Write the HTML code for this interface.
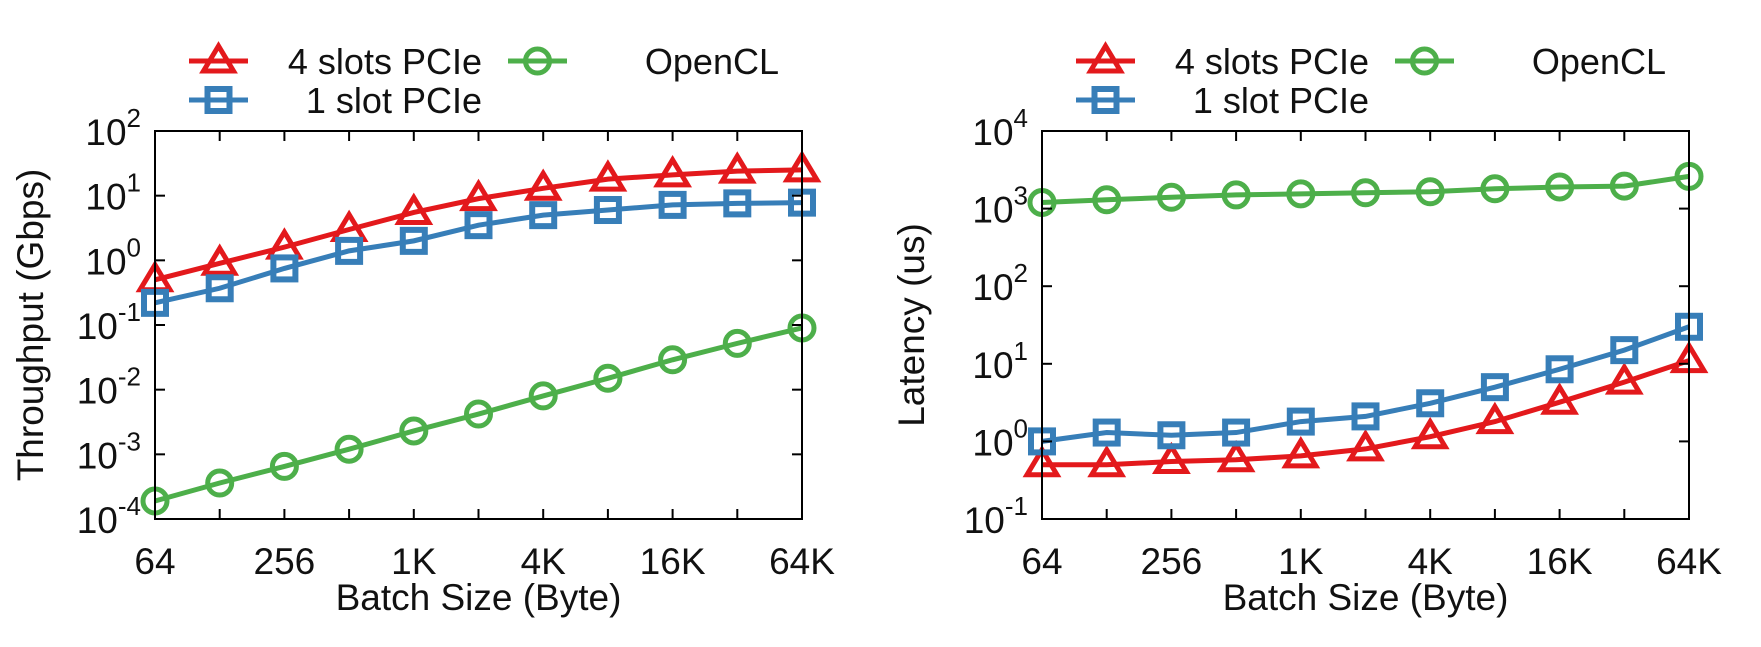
<!DOCTYPE html>
<html><head><meta charset="utf-8"><style>
html,body{margin:0;padding:0;background:#fff;}
svg{display:block;font-family:"Liberation Sans",sans-serif;}
</style></head><body>
<svg id="c" width="1761" height="647" viewBox="0 0 1761 647"></svg>
<script>
const categories=["64","128","256","512","1K","2K","4K","8K","16K","32K","64K"];
const tickLabels=["64","","256","","1K","","4K","","16K","","64K"];
const thrRed=[0.5,0.9,1.6,3.0,5.5,9,13,18,21,24,25];
const thrBlue=[0.22,0.37,0.75,1.4,2.0,3.5,5.0,6.0,7.2,7.6,7.8];
const thrGreen=[1.9e-4,3.6e-4,6.5e-4,1.2e-3,2.3e-3,4.2e-3,8e-3,1.5e-2,2.9e-2,5.2e-2,9.0e-2];
const latRed=[0.5,0.5,0.55,0.58,0.65,0.8,1.15,1.8,3.2,5.8,11];
const latBlue=[1.0,1.3,1.2,1.3,1.8,2.1,3.1,5,8.5,15,30];
const latGreen=[1200,1300,1400,1500,1550,1600,1650,1800,1900,1950,2600];
const thrExp=[-4,-3,-2,-1,0,1,2];
const latExp=[-1,0,1,2,3,4];
const seriesNames=["4 slots PCIe","1 slot PCIe","OpenCL"];
const RED="#e3191c",BLUE="#377eb8",GREEN="#4daf4a";
const NS="http://www.w3.org/2000/svg";
const svg=document.getElementById('c');
function mk(tag,attrs,parent){const e=document.createElementNS(NS,tag);for(const k in attrs)e.setAttribute(k,attrs[k]);(parent||svg).appendChild(e);return e;}
function marker(g,type,x,y,color){
  let m;
  if(type==='tri'){m=mk('polygon',{points:`${x},${y-15} ${x-15},${y+10} ${x+15},${y+10}`,fill:'none',stroke:color,'stroke-width':5},g);}
  else if(type==='sq'){m=mk('rect',{x:x-11,y:y-11,width:22,height:22,fill:'none',stroke:color,'stroke-width':6},g);}
  else {m=mk('circle',{cx:x,cy:y,r:12,fill:'none',stroke:color,'stroke-width':5},g);}
  return m;
}
function chart(name,L,T,W,H,expArr,series,ylabel,ylx){
  const g=mk('g',{});
  
  
  const lo=expArr[0],hi=expArr[expArr.length-1];
  const xs=i=>L+i*W/(categories.length-1);
  const ys=v=>T+H*(hi-Math.log10(v))/(hi-lo);
  series.forEach(s=>{
    const sg=mk('g',{},g);
    
    
    const pts=s.data.map((v,i)=>xs(i)+','+ys(v)).join(' ');
    const pl=mk('polyline',{points:pts,fill:'none',stroke:s.color,'stroke-width':5},sg);
    
    
    s.data.forEach((v,i)=>{const m=marker(sg,s.type,xs(i),ys(v),s.color);
      
      });
  });
  const fr=mk('rect',{x:L,y:T,width:W,height:H,fill:'none',stroke:'#000','stroke-width':2},g);
  
  
  categories.forEach((c,i)=>{
    mk('line',{x1:xs(i),x2:xs(i),y1:T+H,y2:T+H-10,stroke:'#000','stroke-width':2},g);
    mk('line',{x1:xs(i),x2:xs(i),y1:T,y2:T+10,stroke:'#000','stroke-width':2},g);
    if(tickLabels[i]){const t=mk('text',{x:xs(i),y:T+H+55,'text-anchor':'middle','font-size':37,fill:'#111'},g);t.textContent=tickLabels[i];
      
      }
  });
  expArr.forEach(e=>{
    const y=T+H*(hi-e)/(hi-lo);
    mk('line',{x1:L,x2:L+10,y1:y,y2:y,stroke:'#000','stroke-width':2},g);
    mk('line',{x1:L+W,x2:L+W-10,y1:y,y2:y,stroke:'#000','stroke-width':2},g);
    const t=mk('text',{x:L-14,y:y+14,'text-anchor':'end','font-size':37,fill:'#111'},g);
    
    
    const a=mk('tspan',{},t);a.textContent='10';
    const b=mk('tspan',{dy:-18,'font-size':26},t);b.textContent=String(e);
  });
  const xt=mk('text',{x:L+W/2,y:T+H+91,'text-anchor':'middle','font-size':37,fill:'#111'},g);
  xt.textContent='Batch Size (Byte)';
  
  
  const yt=mk('text',{x:ylx,y:T+H/2,'text-anchor':'middle','font-size':37,fill:'#111',transform:`rotate(-90 ${ylx} ${T+H/2})`},g);
  yt.textContent=ylabel;
  
  
  const lg=mk('g',{},g);
  
  
  const ent=[[L+34,61,series[0],L+327],[L+34,100,series[1],L+327],[L+353,61,series[2],L+624]];
  ent.forEach(([x,y,s,tx])=>{
    const eg=mk('g',{},lg);
    
    
    mk('line',{x1:x,x2:x+59,y1:y,y2:y,stroke:s.color,'stroke-width':5},eg);
    marker(eg,s.type,x+29.5,y,s.color);
    const t=mk('text',{x:tx,y:y+13,'text-anchor':'end','font-size':36,fill:'#111'},eg);
    t.textContent=s.label;
  });
}
chart('throughput-chart',155,131,647,388,thrExp,[
 {name:'series-4-slots',label:seriesNames[0],data:thrRed,color:RED,type:'tri'},
 {name:'series-1-slot',label:seriesNames[1],data:thrBlue,color:BLUE,type:'sq'},
 {name:'series-opencl',label:seriesNames[2],data:thrGreen,color:GREEN,type:'circ'}],'Throughput (Gbps)',43);
chart('latency-chart',1042,131,647,388,latExp,[
 {name:'series-4-slots',label:seriesNames[0],data:latRed,color:RED,type:'tri'},
 {name:'series-1-slot',label:seriesNames[1],data:latBlue,color:BLUE,type:'sq'},
 {name:'series-opencl',label:seriesNames[2],data:latGreen,color:GREEN,type:'circ'}],'Latency (us)',924);
</script>
</body></html>
